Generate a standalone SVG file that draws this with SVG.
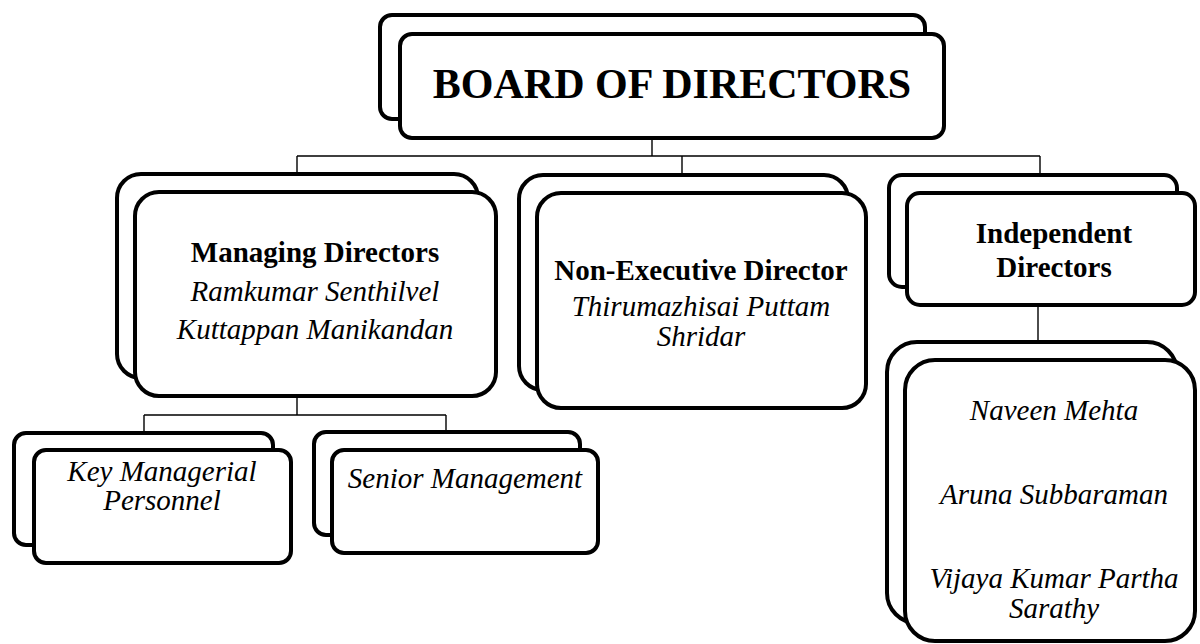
<svg xmlns="http://www.w3.org/2000/svg" width="1200" height="644" viewBox="0 0 1200 644">
<style>
.box{fill:#fff;stroke:#000;stroke-width:4}
.conn{fill:none;stroke:#000;stroke-width:1.4}
text{font-family:"Liberation Serif","Times New Roman",serif;fill:#000;text-anchor:middle}
.t{font-weight:bold;font-size:29px}
.n{font-style:italic;font-size:29px}
.title{font-weight:bold;font-size:42px}
</style>
<rect width="1200" height="644" fill="#fff"/>
<g id="connectors">
<path class="conn" d="M652,138 V156 M297,156 H1040 M297,156 V174 M682,156 V175 M1040,156 V175"/>
<path class="conn" d="M297,396 V415 M144,415 H446 M144,415 V433 M446,415 V432"/>
<path class="conn" d="M1038,305 V342"/>
</g>
<g id="board">
<rect class="box" x="380" y="15" width="545" height="104" rx="12"/>
<rect class="box" x="400" y="34" width="544" height="104" rx="12"/>
<text class="title" x="672" y="98">BOARD OF DIRECTORS</text>
</g>
<g id="managing">
<rect class="box" x="117" y="174" width="361" height="204" rx="24"/>
<rect class="box" x="135" y="192" width="361" height="204" rx="24"/>
<text class="t" x="315" y="262">Managing Directors</text>
<text class="n" x="315" y="301">Ramkumar Senthilvel</text>
<text class="n" x="315" y="339">Kuttappan Manikandan</text>
</g>
<g id="nonexec">
<rect class="box" x="519" y="175" width="329" height="215" rx="24"/>
<rect class="box" x="537" y="193" width="329" height="215" rx="24"/>
<text class="t" x="701" y="280">Non-Executive Director</text>
<text class="n" x="701" y="316">Thirumazhisai Puttam</text>
<text class="n" x="701" y="346">Shridar</text>
</g>
<g id="independent">
<rect class="box" x="889" y="175" width="288" height="112" rx="13"/>
<rect class="box" x="907" y="193" width="288" height="112" rx="13"/>
<text class="t" x="1054" y="243">Independent</text>
<text class="t" x="1054" y="277">Directors</text>
</g>
<g id="independent-members">
<rect class="box" x="887" y="342" width="290" height="281" rx="30"/>
<rect class="box" x="905" y="360" width="290" height="281" rx="30"/>
<text class="n" x="1054" y="420">Naveen Mehta</text>
<text class="n" x="1054" y="504">Aruna Subbaraman</text>
<text class="n" x="1054" y="588">Vijaya Kumar Partha</text>
<text class="n" x="1054" y="618">Sarathy</text>
</g>
<g id="kmp">
<rect class="box" x="14" y="433" width="259" height="112" rx="12"/>
<rect class="box" x="34" y="450" width="257" height="113" rx="12"/>
<text class="n" x="162" y="481">Key Managerial</text>
<text class="n" x="162" y="510">Personnel</text>
</g>
<g id="senior">
<rect class="box" x="314" y="432" width="266" height="103" rx="12"/>
<rect class="box" x="332" y="450" width="266" height="103" rx="12"/>
<text class="n" x="465" y="488">Senior Management</text>
</g>
</svg>
